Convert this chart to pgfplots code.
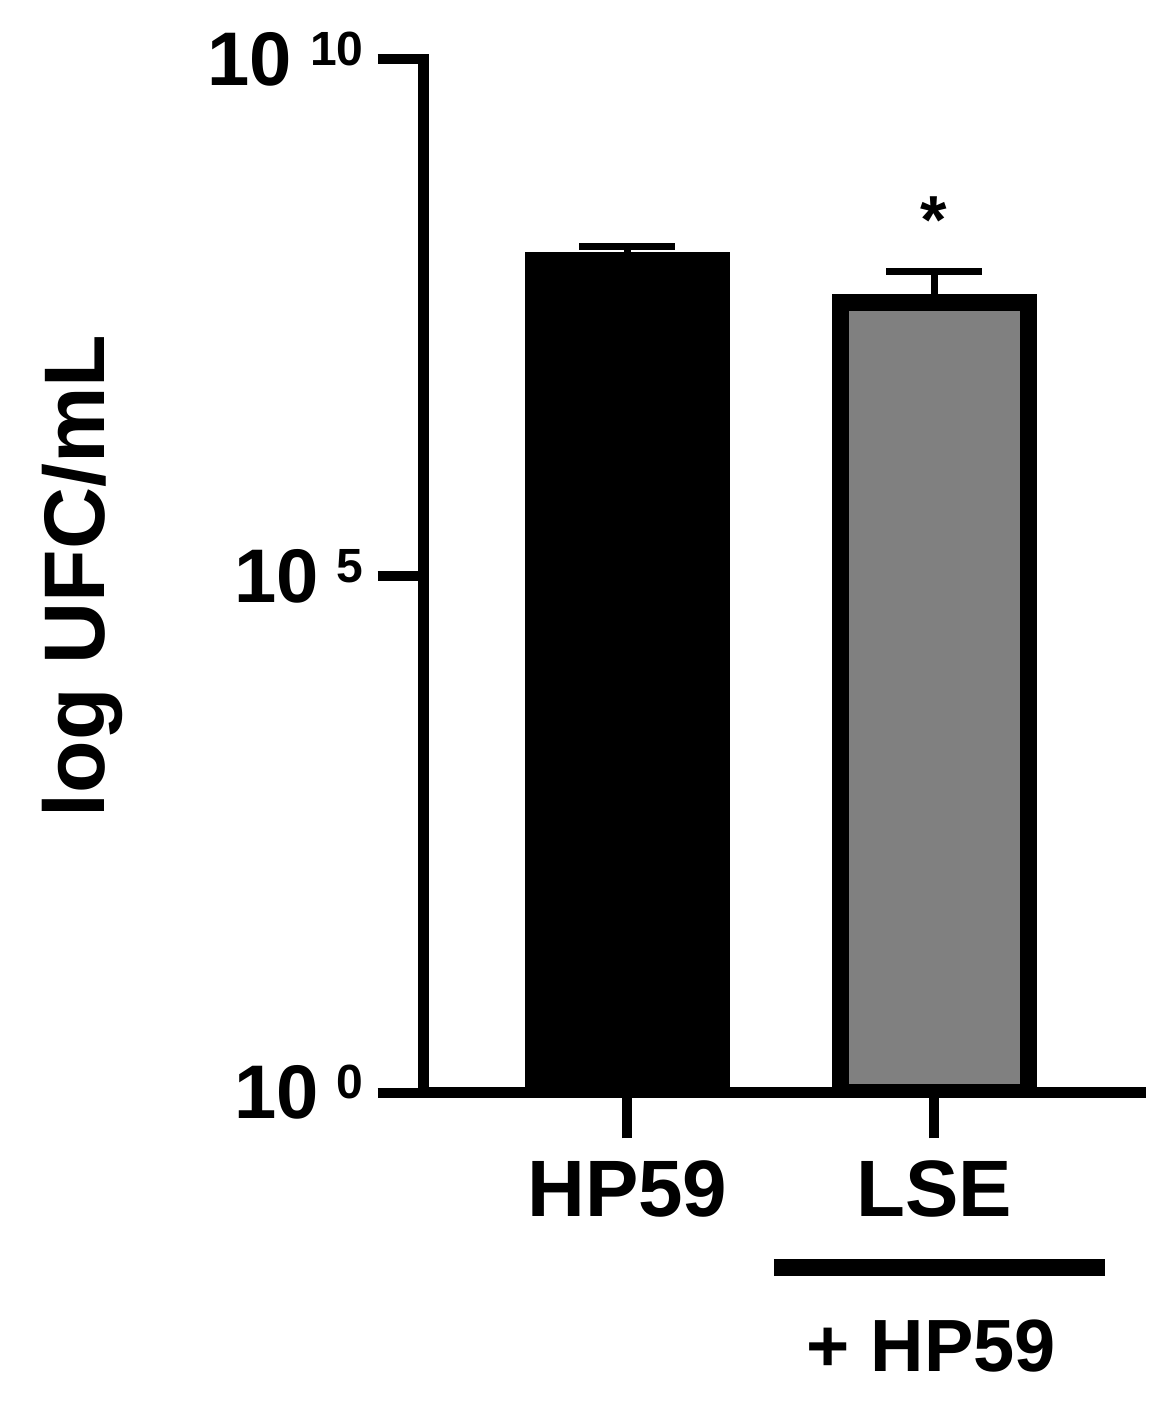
\documentclass[border=0pt]{standalone}
\usepackage{fontspec}
\setmainfont{Liberation Sans}
\usepackage{pgfplots}
\pgfplotsset{compat=1.18}
\definecolor{barGray}{RGB}{128,128,128}
\newcommand{\tenpow}[1]{10\hspace{4.5pt}\smash{\raisebox{5pt}{\fontsize{12}{12}\selectfont #1}}}

\begin{document}
\begin{tikzpicture}
\begin{axis}[
    scale only axis, width=179.1pt, height=258.25pt,
    ymode=log, ymin=1, ymax=1e10,
    xmin=0.3357, xmax=2.671,
    axis lines=left,
    axis line style={-, line width=2.8pt, line cap=rect},
    axis on top,
    clip mode=individual,
    xtick={1,2}, xticklabels={HP59, LSE},
    ytick={1,1e5,1e10},
    yticklabels={\tenpow{0},\tenpow{5},\tenpow{10}},
    yminorticks=false,
    tick align=outside,
    major tick length=11.5pt,
    tick style={line width=2.5pt, black},
    yticklabel style={font=\bfseries\fontsize{19}{20}\selectfont},
    xticklabel style={font=\bfseries\fontsize{20}{22}\selectfont, yshift=-2pt},
    ylabel={log UFC/mL},
    ylabel style={font=\bfseries\fontsize{21.5}{24}\selectfont,
        at={(rel axis cs:-0.4448,0.5)}, anchor=base},
]
% HP59
\addplot[ybar, bar shift=0pt, bar width=47pt, fill=black, draw=black, line width=4.25pt,
    error bars/.cd, y dir=plus, y explicit, error mark=|,
    error bar style={line width=1.75pt, black},
    error mark options={black, line width=1.75pt, mark size=12pt}]
  coordinates {(1,1.14e8) +- (0,0.41e8)};
% LSE + HP59
\addplot[ybar, bar shift=0pt, bar width=47pt, fill=barGray, draw=black, line width=4.25pt,
    error bars/.cd, y dir=plus, y explicit, error mark=|,
    error bar style={line width=1.75pt, black},
    error mark options={black, line width=1.75pt, mark size=12pt}]
  coordinates {(2,4.44e7) +- (0,4.43e7)};

\node[anchor=base, font=\bfseries\fontsize{17}{18}\selectfont] at (axis cs:2,1.64e8) {*};
\draw[line width=4.25pt] (rel axis cs:0.4889,-0.1692) -- (rel axis cs:0.9509,-0.1692);
\node[anchor=base, font=\bfseries\fontsize{18.5}{20}\selectfont] at (rel axis cs:0.7087,-0.2703) {+ HP59};

\coordinate (bbsw) at (rel axis cs:-0.5913,-0.2996);
\coordinate (bbne) at (rel axis cs:1.0458,1.0576);
\end{axis}
\path (bbsw) rectangle (bbne);
\end{tikzpicture}
\end{document}
